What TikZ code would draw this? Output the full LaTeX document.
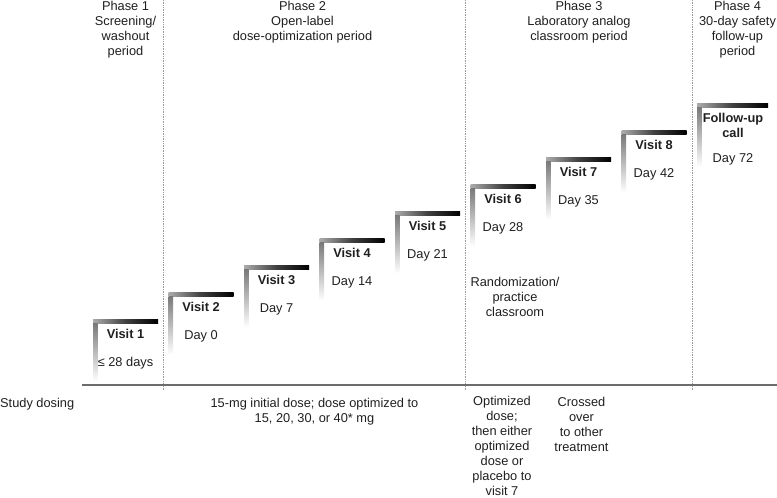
\documentclass[tikz,border=0pt]{standalone}
\usepackage{fontspec}
\setmainfont{Liberation Sans}
\begin{document}
\begin{tikzpicture}[x=1pt,y=-1pt,
  txt/.style={inner sep=0pt, text=black!88, font=\fontsize{12.8}{15}\selectfont, align=center},
  vlabel/.style={txt, anchor=base, font=\fontsize{12.8}{15}\selectfont\bfseries},
  dlabel/.style={txt, anchor=base},
  mtext/.style={txt, anchor=north},
  divider/.style={draw=gray!80, densely dotted, line width=0.7pt},
  baseline/.style={draw=gray!85!black, line width=1.2pt}
]
\useasboundingbox (0,0) rectangle (777,498);
% dividers
\coordinate (d1t) at (163,0); \coordinate (d1b) at (163,390);
\coordinate (d2t) at (465,0); \coordinate (d2b) at (465,390);
\coordinate (d3t) at (692.5,0); \coordinate (d3b) at (692.5,390);
\draw[divider] (d1t) -- (d1b);
\draw[divider] (d2t) -- (d2b);
\draw[divider] (d3t) -- (d3b);
% base line
\coordinate (bl) at (82,385); \coordinate (br) at (777,385);
\draw[baseline] (bl) -- (br);
% steps
\foreach \i/\name/\day [count=\k from 0] in {1/Visit 1/≤ 28 days,2/Visit 2/Day 0,3/Visit 3/Day 7,4/Visit 4/Day 14,5/Visit 5/Day 21,6/Visit 6/Day 28,7/Visit 7/Day 35,8/Visit 8/Day 42}{
  \pgfmathsetmacro{\xs}{93+75.5*\k}
  \pgfmathsetmacro{\yt}{319-27*\k}
  \shade[left color=gray!65, right color=black, middle color=black!75] (\xs,\yt) rectangle ++(65,4.5);
  \shade[top color=gray!95!black, bottom color=white] (\xs,\yt+4.5) rectangle ++(4.5,58);
  \node[vlabel] (v\i) at (\xs+32.5,\yt+19.5) {\name};
  \node[dlabel] (day\i) at (\xs+32.5,\yt+47.5) {\day};
}
% follow-up
\shade[left color=gray!65, right color=black, middle color=black!75] (697,103) rectangle (768,107.5);
\shade[top color=gray!95!black, bottom color=white] (697,107.5) rectangle (701.5,167);
\node[mtext, font=\fontsize{12.8}{14.5}\selectfont\bfseries] (fu) at (733,113.4) {Follow-up\\call};
\node[dlabel] (day72) at (733,162.6) {Day 72};
% headers
\node[mtext] (p1) at (125.5,1) {Phase 1\\Screening/\\washout\\period};
\node[mtext] (p2) at (302.5,1) {Phase 2\\Open-label\\dose-optimization period};
\node[mtext] (p3) at (579,1) {Phase 3\\Laboratory analog\\classroom period};
\node[mtext] (p4) at (737.5,1) {Phase 4\\30-day safety\\follow-up\\period};
% randomization
\node[mtext] (rand) at (515,277.4) {Randomization/\\practice\\classroom};
% bottom
\node[txt, anchor=base west] (sd) at (0,407.6) {Study dosing};
\node[mtext] (dose2) at (314.5,398.4) {15-mg initial dose; dose optimized to\\15, 20, 30, or 40* mg};
\node[mtext] (dose3) at (502,396) {Optimized\\dose;\\then either\\optimized\\dose or\\placebo to\\visit 7};
\node[mtext] (dose3b) at (581.5,397.4) {Crossed\\over\\to other\\treatment};
\end{tikzpicture}
\end{document}
